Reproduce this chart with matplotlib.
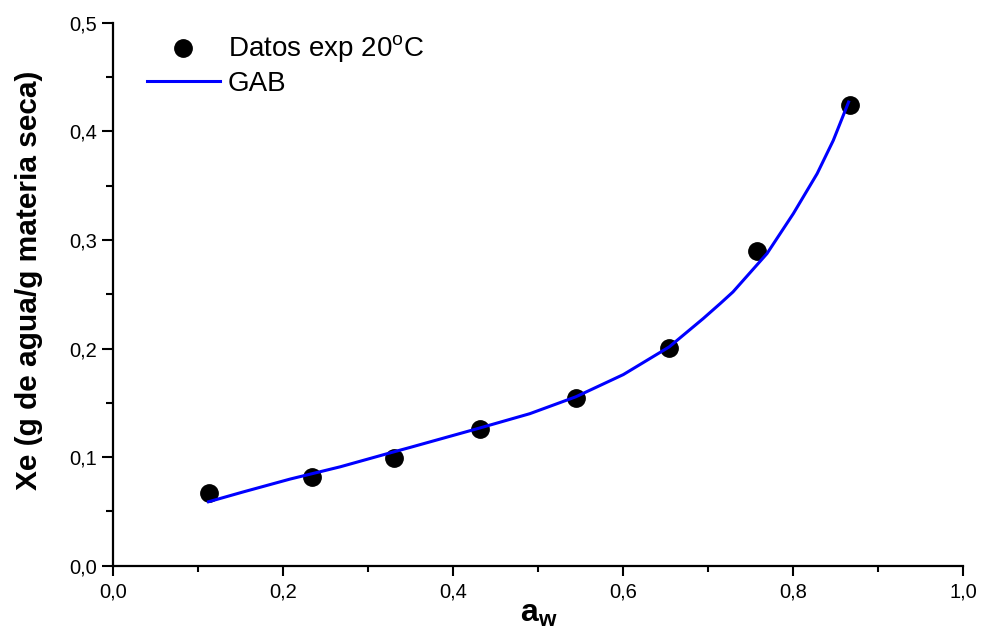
import numpy as np
import matplotlib.pyplot as plt
from matplotlib.ticker import MultipleLocator, FuncFormatter

plt.rcParams['font.family'] = ['Liberation Sans', 'DejaVu Sans']
plt.rcParams['mathtext.fontset'] = 'custom'
plt.rcParams['mathtext.rm'] = 'Liberation Sans'
plt.rcParams['mathtext.bf'] = 'Liberation Sans:bold'

# experimental points (aw, Xe)
aw_exp = [0.113, 0.234, 0.330, 0.431, 0.544, 0.654, 0.757, 0.867]
xe_exp = [0.0667, 0.0819, 0.0990, 0.1255, 0.1545, 0.2009, 0.2902, 0.4245]

# GAB curve
aw_gab = [0.112, 0.153, 0.208, 0.267, 0.326, 0.349, 0.431, 0.490, 0.544,
          0.600, 0.654, 0.694, 0.714, 0.729, 0.769, 0.800, 0.828, 0.847, 0.865]
xe_gab = [0.0589, 0.0680, 0.0798, 0.0911, 0.1040, 0.1089, 0.1268, 0.1400, 0.1555,
          0.1760, 0.2015, 0.2276, 0.2414, 0.2521, 0.2874, 0.3242, 0.3610, 0.3916, 0.4269]

fig = plt.figure(figsize=(9.81, 6.30), dpi=100)
ax = fig.add_axes([0.1155, 0.102, 0.8665, 0.862])

ax.plot(aw_exp, xe_exp, 'o', color='black', markersize=12.5, label='Datos exp 20$^\\mathrm{o}$C')
ax.plot(aw_gab, xe_gab, color='#0000ff', lw=2.2, label='GAB')

ax.set_xlim(0, 1.0)
ax.set_ylim(0, 0.5)
ax.spines['top'].set_visible(False)
ax.spines['right'].set_visible(False)
ax.spines['left'].set_linewidth(1.6)
ax.spines['bottom'].set_linewidth(1.6)

ax.xaxis.set_major_locator(MultipleLocator(0.2))
ax.xaxis.set_minor_locator(MultipleLocator(0.1))
ax.yaxis.set_major_locator(MultipleLocator(0.1))
ax.yaxis.set_minor_locator(MultipleLocator(0.05))
comma = FuncFormatter(lambda v, p: ('%.1f' % v).replace('.', ','))
ax.xaxis.set_major_formatter(comma)
ax.yaxis.set_major_formatter(comma)
ax.tick_params(axis='x', which='major', length=7, width=1.5, pad=5, labelsize=14.5)
ax.tick_params(axis='x', which='minor', length=4.5, width=1.5)
ax.tick_params(axis='y', which='major', length=8, width=1.5, pad=4, labelsize=14.5)
ax.tick_params(axis='y', which='minor', length=5, width=1.5)

ax.set_xlabel('$\\mathbf{a}_\\mathbf{w}$', fontsize=23, labelpad=0)
ax.xaxis.set_label_coords(0.501, -0.061)
ax.xaxis.label.set_va('top')
ax.set_ylabel('Xe (g de agua/g materia seca)', fontsize=21.5, fontweight='bold')
ax.yaxis.set_label_coords(-0.083, 0.526)

ax.legend(loc='upper left', bbox_to_anchor=(0.04, 0.98), frameon=False, fontsize=20,
          handlelength=2.6, handletextpad=0.3, labelspacing=0.2, borderaxespad=0, borderpad=0)

fig.savefig('out.png', dpi=100)
